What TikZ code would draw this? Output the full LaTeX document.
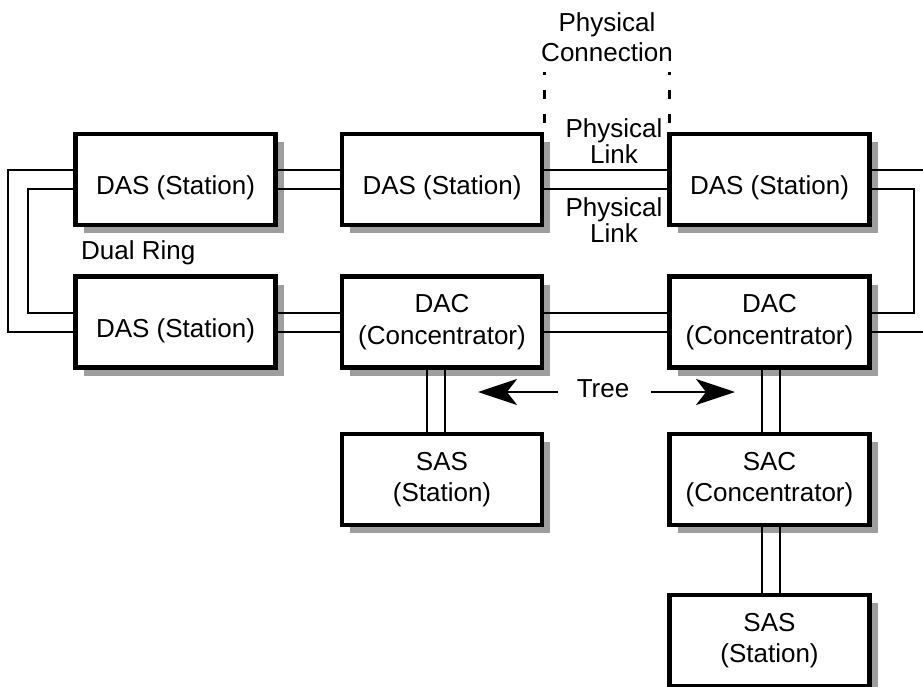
\documentclass[tikz,border=0pt]{standalone}
\usepackage{fontspec}
\setmainfont{Liberation Sans}
\usetikzlibrary{arrows.meta,shadows}
\begin{document}
\begin{tikzpicture}[x=1pt,y=-1pt,
  box/.style={draw, line width=4.5pt, fill=white, minimum width=200pt, minimum height=91pt,
    align=center, inner sep=0pt, font=\fontsize{26}{31.5}\selectfont,
    drop shadow={shadow xshift=8pt, shadow yshift=-8pt, fill=black!38, opacity=1}},
  onel/.style={text height=31pt, text depth=0pt},
  link/.style={line width=2pt},
  dsh/.style={line width=3pt, dash pattern=on 9pt off 15pt},
  lbl/.style={font=\fontsize{26}{26}\selectfont, align=center, inner sep=0pt},
  treearrow/.style={line width=2pt, -{Stealth[length=39pt, width=26pt, inset=10pt]}}
]
\useasboundingbox (0,0) rectangle (923,687);

% boxes
\node[box,onel] (b1) at (175.5,179.5) {DAS (Station)};
\node[box,onel] (b2) at (442,179.5) {DAS (Station)};
\node[box,onel] (b3) at (769.5,179.5) {DAS (Station)};
\node[box,onel] (b4) at (175.5,322) {DAS (Station)};
\node[box] (b5) at (442,322) {DAC\\(Concentrator)};
\node[box] (b6) at (769.5,322) {DAC\\(Concentrator)};
\node[box] (b7) at (442,479.5) {SAS\\(Station)};
\node[box] (b8) at (769.5,479.5) {SAC\\(Concentrator)};
\node[box] (b9) at (769.5,640.5) {SAS\\(Station)};

% horizontal double links
\foreach \a/\b in {b1/b2, b2/b3, b4/b5, b5/b6} {
  \draw[link] ([yshift=9.5pt]\a.east) -- ([yshift=9.5pt]\b.west);
  \draw[link] ([yshift=-9.5pt]\a.east) -- ([yshift=-9.5pt]\b.west);
}

% vertical double links
\draw[link] ([xshift=-15pt]b5.south) -- ([xshift=-15pt]b7.north);
\draw[link] ([xshift=3pt]b5.south) -- ([xshift=3pt]b7.north);
\draw[link] ([xshift=-7.5pt]b6.south) -- ([xshift=-7.5pt]b8.north);
\draw[link] ([xshift=10.5pt]b6.south) -- ([xshift=10.5pt]b8.north);
\draw[link] ([xshift=-7.5pt]b8.south) -- ([xshift=-7.5pt]b9.north);
\draw[link] ([xshift=10.5pt]b8.south) -- ([xshift=10.5pt]b9.north);

% dual ring, left side
\coordinate (lo1) at (8,170);
\coordinate (lo2) at (8,331.5);
\coordinate (li1) at (28,189);
\coordinate (li2) at (28,312.5);
\draw[link] ([yshift=9.5pt]b1.west) -- (lo1) -- (lo2) -- ([yshift=-9.5pt]b4.west);
\draw[link] ([yshift=-9.5pt]b1.west) -- (li1) -- (li2) -- ([yshift=9.5pt]b4.west);

% dual ring, right side
\coordinate (ro1) at (935,170);
\coordinate (ro2) at (935,331.5);
\coordinate (ri1) at (914,189);
\coordinate (ri2) at (914,312.5);
\draw[link] ([yshift=9.5pt]b3.east) -- (ro1);
\draw[link] ([yshift=-9.5pt]b3.east) -- (ri1) -- (ri2) -- ([yshift=9.5pt]b6.east);
\draw[link] ([yshift=-9.5pt]b6.east) -- (ro2);

% physical connection
\coordinate (d1a) at (544,123);
\coordinate (d1b) at (544,72);
\coordinate (d2a) at (669,123);
\coordinate (d2b) at (669,72);
\draw[dsh] (d1a) -- (d1b);
\draw[dsh] (d2a) -- (d2b);

% labels
\node[lbl, font=\fontsize{26}{30}\selectfont] (pc) at (607,37) {Physical\\Connection};
\node[lbl] (pl1) at (614,141) {Physical\\Link};
\node[lbl] (pl2) at (614,220) {Physical\\Link};
\node[lbl, anchor=base west] (dr) at (81,259) {Dual Ring};
\node[lbl, anchor=base] (tree) at (603,397) {Tree};

% tree arrows
\coordinate (tls) at (558,392);
\coordinate (tlt) at (478,392);
\coordinate (trs) at (651,392);
\coordinate (trt) at (735,392);
\draw[treearrow] (tls) -- (tlt);
\draw[treearrow] (trs) -- (trt);
\end{tikzpicture}
\end{document}
